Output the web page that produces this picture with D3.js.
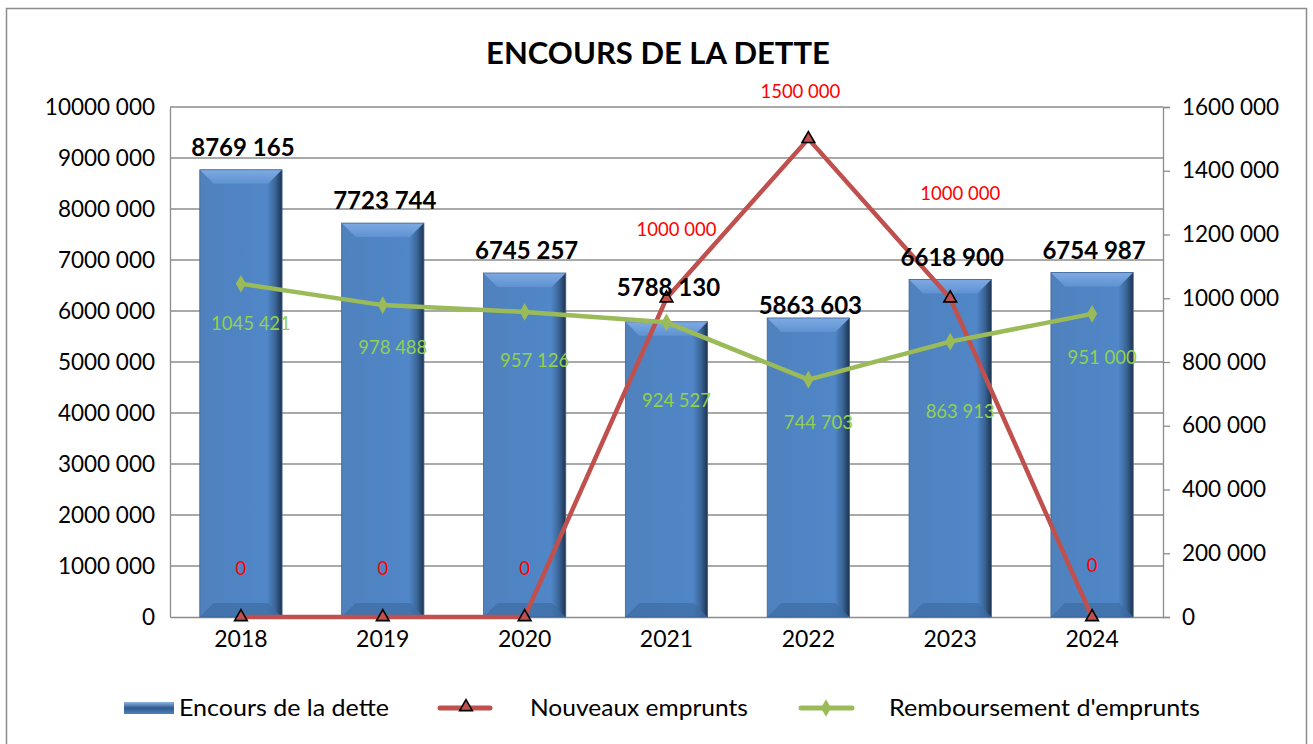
<!DOCTYPE html>
<html>
<head>
<meta charset="utf-8">
<script src="https://cdn.jsdelivr.net/npm/d3@7"></script>
<style>
  body { margin: 0; background: #fff; }
  svg { font-family: Lato, "Open Sans", sans-serif; }
</style>
</head>
<body>
<svg id="chart" width="1313" height="744"></svg>
<script>
// data
const years = ["2018", "2019", "2020", "2021", "2022", "2023", "2024"];
const encours = [8769165, 7723744, 6745257, 5788130, 5863603, 6618900, 6754987];
const nouveaux = [0, 0, 0, 1000000, 1500000, 1000000, 0];
const remboursement = [1045421, 978488, 957126, 924527, 744703, 863913, 951000];
const leftTicks = [0, 1000000, 2000000, 3000000, 4000000, 5000000, 6000000, 7000000, 8000000, 9000000, 10000000];
const rightTicks = [0, 200000, 400000, 600000, 800000, 1000000, 1200000, 1400000, 1600000];

// label nudges (Excel had moved some labels by hand)
const redLabelDy = [-47, -47, -47, -67, -46, -103, -50];
const greenLabelDy = [42, 44, 50, 80, 45, 72, 45];
const barLabelDy = [-20, -20, -20, -32, -10, -20, -20];

const fmt = v => {
    if (v < 1000) return String(v);
    const hi = Math.floor(v / 1000), lo = v % 1000;
    return hi + " " + String(lo).padStart(3, "0");
};

const margin = { top: 107, left: 170, right: 150, bottom: 127 };
const W = 1313, H = 744;
const width = W - margin.left - margin.right;
const height = H - margin.top - margin.bottom;

const svg = d3.select("#chart");

// outer border
svg.append("rect")
    .attr("x", 6.5).attr("y", 8.5)
    .attr("width", 1300).attr("height", 760)
    .attr("fill", "none").attr("stroke", "#8c8c8c").attr("stroke-width", 1.5);

svg.append("text")
    .attr("x", 658).attr("y", 64)
    .attr("text-anchor", "middle")
    .style("font-size", "31px").style("font-weight", "bold")
    .text("ENCOURS DE LA DETTE");

const g = svg.append("g").attr("transform", `translate(${margin.left},${margin.top})`);

const x = d3.scaleBand().domain(years).range([0, width]).paddingInner(0.42).paddingOuter(0.21);
const xc = d => x(d) + x.bandwidth() / 2;
const y = d3.scaleLinear().domain([0, 10000000]).range([height, 0]);
const y2 = d3.scaleLinear().domain([0, 1600000]).range([height, 0]);

// gridlines
g.selectAll(".grid").data(leftTicks.slice(1))
    .join("line")
    .attr("x1", 0).attr("x2", width)
    .attr("y1", d => y(d)).attr("y2", d => y(d))
    .attr("stroke", "#8c8c8c").attr("stroke-width", 1.3);

// left axis
const yAxis = g.append("g")
    .call(d3.axisLeft(y).tickValues(leftTicks).tickFormat(fmt).tickSize(0).tickPadding(15));
yAxis.select(".domain").attr("stroke", "#8c8c8c").attr("stroke-width", 1.3);
yAxis.selectAll("text").style("font-size", "22.5px").attr("fill", "#000")
    .style("font-family", "Lato, sans-serif");

// right axis
const y2Axis = g.append("g").attr("transform", `translate(${width},0)`)
    .call(d3.axisRight(y2).tickValues(rightTicks).tickFormat(fmt).tickSize(7).tickPadding(12));
y2Axis.select(".domain").attr("stroke", "#8c8c8c").attr("stroke-width", 1.3);
y2Axis.selectAll("line").attr("stroke", "#8c8c8c").attr("stroke-width", 1.3);
y2Axis.selectAll("text").style("font-size", "22.5px").attr("fill", "#000")
    .style("font-family", "Lato, sans-serif");

// bottom axis
const xAxis = g.append("g").attr("transform", `translate(0,${height})`)
    .call(d3.axisBottom(x).tickSize(0).tickPadding(14));
xAxis.select(".domain").attr("stroke", "#8c8c8c").attr("stroke-width", 1.3);
xAxis.selectAll("text").style("font-size", "23px").attr("fill", "#000")
    .style("font-family", "Lato, sans-serif");

// gradients for bevelled bars
const defs = svg.append("defs");
const gb = defs.append("linearGradient").attr("id", "barBody").attr("x1", 0).attr("x2", 1);
gb.append("stop").attr("offset", "0%").attr("stop-color", "#4f81bd");
gb.append("stop").attr("offset", "82%").attr("stop-color", "#5087c8");
gb.append("stop").attr("offset", "92%").attr("stop-color", "#3a6496");
gb.append("stop").attr("offset", "100%").attr("stop-color", "#1c3350");
const gt = defs.append("linearGradient").attr("id", "barTop").attr("x1", 0).attr("y1", 0).attr("x2", 0).attr("y2", 1);
gt.append("stop").attr("offset", "0%").attr("stop-color", "#7eaae2");
gt.append("stop").attr("offset", "100%").attr("stop-color", "#5f92d2");
const gl = defs.append("linearGradient").attr("id", "legBar").attr("x1", 0).attr("y1", 0).attr("x2", 0).attr("y2", 1);
gl.append("stop").attr("offset", "0%").attr("stop-color", "#8db4e2");
gl.append("stop").attr("offset", "50%").attr("stop-color", "#2f5a8e");
gl.append("stop").attr("offset", "100%").attr("stop-color", "#4f81bd");

const bev = 14;
const bars = g.selectAll(".bar").data(years.map((yr, i) => ({ yr, v: encours[i], i })))
    .join("g").attr("class", "bar");

bars.append("rect")
    .attr("x", d => x(d.yr)).attr("y", d => y(d.v))
    .attr("width", x.bandwidth()).attr("height", d => height - y(d.v))
    .attr("fill", "url(#barBody)");
// top bevel
bars.append("path")
    .attr("d", d => {
        const x0 = x(d.yr), x1 = x0 + x.bandwidth(), t = y(d.v);
        return `M${x0},${t}L${x1},${t}L${x1 - bev},${t + bev}L${x0 + bev},${t + bev}Z`;
    })
    .attr("fill", "url(#barTop)");
// bottom bevel
bars.append("path")
    .attr("d", d => {
        const x0 = x(d.yr), x1 = x0 + x.bandwidth();
        return `M${x0},${height}L${x1},${height}L${x1 - bev},${height - bev}L${x0 + bev},${height - bev}Z`;
    })
    .attr("fill", "#3d6ca4").attr("opacity", 0.7);
// thin outline
bars.append("rect")
    .attr("x", d => x(d.yr)).attr("y", d => y(d.v))
    .attr("width", x.bandwidth()).attr("height", d => height - y(d.v))
    .attr("fill", "none").attr("stroke", "#3b6394").attr("stroke-width", 0.8);

// lines
const line = d3.line().x((d, i) => xc(years[i])).y(d => y2(d));
g.append("path").datum(nouveaux)
    .attr("d", line).attr("fill", "none")
    .attr("stroke", "#c0504d").attr("stroke-width", 4.5);

g.append("path").datum(remboursement)
    .attr("d", line).attr("fill", "none")
    .attr("stroke", "#9bbb59").attr("stroke-width", 4.5);

// markers
const tri = d3.symbol().type(d3.symbolTriangle).size(70);
g.selectAll(".tri").data(nouveaux).join("path")
    .attr("transform", (d, i) => `translate(${xc(years[i])},${y2(d)})`)
    .attr("d", tri)
    .attr("fill", "#c0504d").attr("stroke", "#000").attr("stroke-width", 1.6);

const dia = d3.symbol().type(d3.symbolDiamond).size(90);
g.selectAll(".dia").data(remboursement).join("path")
    .attr("transform", (d, i) => `translate(${xc(years[i])},${y2(d)})`)
    .attr("d", dia)
    .attr("fill", "#9bbb59");

// bar labels
g.selectAll(".blab").data(encours).join("text")
    .attr("x", (d, i) => xc(years[i]) + 2)
    .attr("y", (d, i) => y(d) + barLabelDy[i])
    .attr("text-anchor", "middle").attr("dominant-baseline", "middle")
    .style("font-size", "24px").style("font-weight", "bold")
    .text(fmt);

// red labels
g.selectAll(".rlab").data(nouveaux).join("text")
    .attr("x", (d, i) => xc(years[i]) + (d > 0 ? (i === 4 ? -8 : 10) : 0))
    .attr("y", (d, i) => y2(d) + redLabelDy[i])
    .attr("text-anchor", "middle").attr("dominant-baseline", "middle")
    .attr("fill", "#ff0000").style("font-size", "18.5px")
    .text(fmt);

// green labels
g.selectAll(".glab").data(remboursement).join("text")
    .attr("x", (d, i) => xc(years[i]) + 10)
    .attr("y", (d, i) => y2(d) + greenLabelDy[i])
    .attr("text-anchor", "middle").attr("dominant-baseline", "middle")
    .attr("fill", "#92d050").style("font-size", "18.5px")
    .text(fmt);

// legend
const leg = svg.append("g").style("font-size", "23px");
leg.append("rect").attr("x", 124).attr("y", 702).attr("width", 50).attr("height", 12)
    .attr("fill", "url(#legBar)");
leg.append("text").attr("x", 179).attr("y", 716)
    .attr("textLength", 210).attr("lengthAdjust", "spacingAndGlyphs")
    .text("Encours de la dette");

leg.append("line").attr("x1", 440).attr("x2", 490).attr("y1", 708).attr("y2", 708)
    .attr("stroke", "#c0504d").attr("stroke-width", 5).attr("stroke-linecap", "round");
leg.append("path").attr("transform", "translate(466,707)").attr("d", tri)
    .attr("fill", "#c0504d").attr("stroke", "#000").attr("stroke-width", 1.6);
leg.append("text").attr("x", 530).attr("y", 716)
    .attr("textLength", 218).attr("lengthAdjust", "spacingAndGlyphs")
    .text("Nouveaux emprunts");

leg.append("line").attr("x1", 801).attr("x2", 852).attr("y1", 708).attr("y2", 708)
    .attr("stroke", "#9bbb59").attr("stroke-width", 5).attr("stroke-linecap", "round");
leg.append("path").attr("transform", "translate(826,708)").attr("d", dia)
    .attr("fill", "#9bbb59");
leg.append("text").attr("x", 889).attr("y", 716)
    .attr("textLength", 311).attr("lengthAdjust", "spacingAndGlyphs")
    .text("Remboursement d'emprunts");
</script>
</body>
</html>
